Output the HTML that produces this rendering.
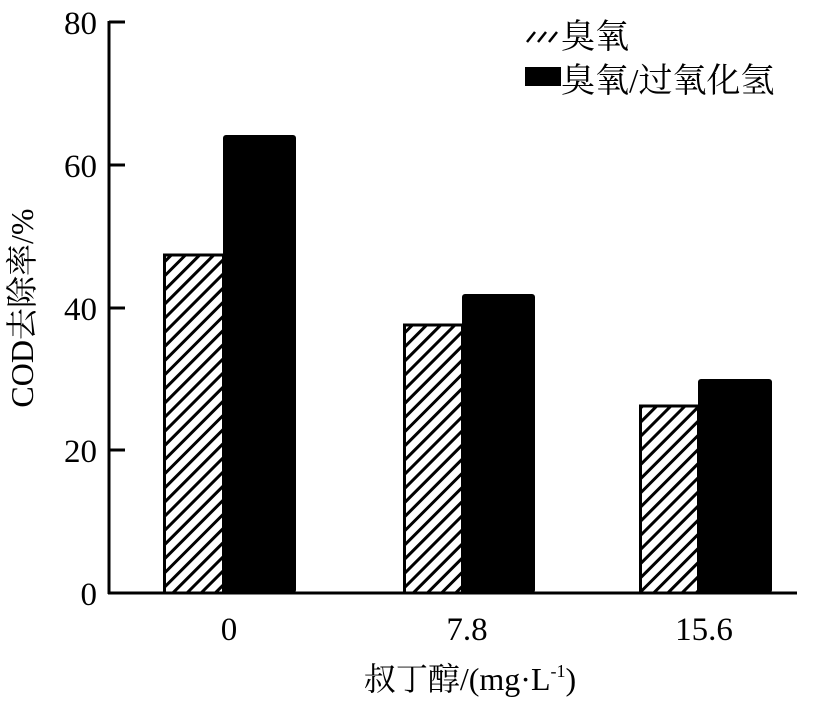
<!DOCTYPE html>
<html><head><meta charset="utf-8"><style>
html,body{margin:0;padding:0;background:#fff;}
svg{display:block;font-family:"Liberation Serif","Noto Serif CJK SC",serif;}
</style></head><body>
<svg width="819" height="702" viewBox="0 0 819 702" xmlns="http://www.w3.org/2000/svg">
<defs>
<pattern id="h" patternUnits="userSpaceOnUse" width="10" height="10" patternTransform="rotate(45)">
<rect width="10" height="10" fill="#fff"/>
<rect x="0" y="0" width="3" height="10" fill="#000"/>
</pattern>
</defs>
<g stroke="#000" stroke-width="3">
<rect x="164.5" y="255" width="59" height="338" fill="url(#h)"/>
<rect x="404.5" y="325" width="58" height="268" fill="url(#h)"/>
<rect x="640.5" y="406" width="58" height="187" fill="url(#h)"/>
</g>
<rect x="223" y="135" width="73" height="458" rx="3" fill="#000"/>
<rect x="462" y="294" width="73" height="299" rx="3" fill="#000"/>
<rect x="698" y="379" width="74" height="214" rx="3" fill="#000"/>
<g stroke="#000" stroke-width="3" fill="none">
<line x1="109" y1="21" x2="109" y2="594"/>
<line x1="108" y1="593" x2="797" y2="593"/>
<line x1="109" y1="22" x2="125" y2="22"/>
<line x1="109" y1="165" x2="125" y2="165"/>
<line x1="109" y1="308" x2="125" y2="308"/>
<line x1="109" y1="450" x2="125" y2="450"/>
</g>
<g font-size="33" text-anchor="end" fill="#000">
<text x="97" y="34">80</text>
<text x="97" y="177">60</text>
<text x="97" y="320">40</text>
<text x="97" y="462">20</text>
<text x="97" y="605">0</text>
</g>
<g font-size="33" text-anchor="middle" fill="#000">
<text x="229" y="640">0</text>
<text x="467" y="640">7.8</text>
<text x="704" y="640">15.6</text>
</g>
<text x="470" y="690" font-size="32" text-anchor="middle">叔丁醇/(mg·L<tspan font-size="18" dy="-13">-1</tspan><tspan dy="13">)</tspan></text>
<text transform="translate(33,308) rotate(-90)" font-size="32" text-anchor="middle">COD去除率/%</text>
<g stroke="#000" stroke-width="2.5">
<line x1="527" y1="42" x2="535" y2="32"/>
<line x1="538" y1="42" x2="546" y2="32"/>
<line x1="549" y1="42" x2="557" y2="32"/>
</g>
<rect x="525" y="67" width="36" height="19" fill="#000"/>
<text x="561" y="48" font-size="34">臭氧</text>
<text x="561" y="92" font-size="34">臭氧/过氧化氢</text>
</svg>
</body></html>
